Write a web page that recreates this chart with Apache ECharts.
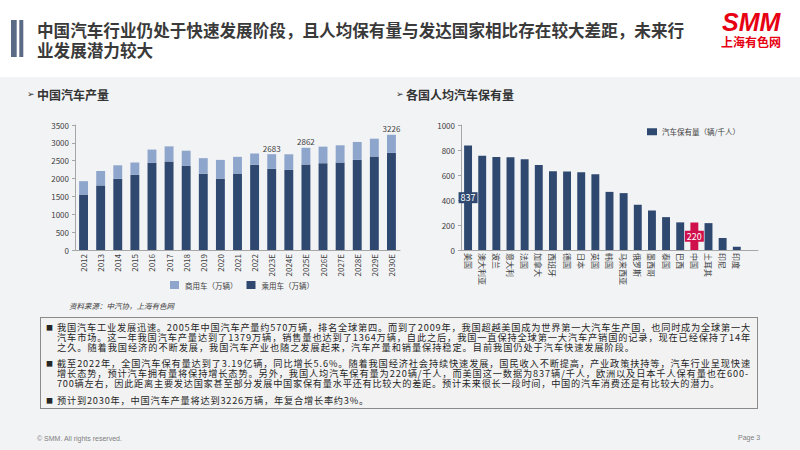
<!DOCTYPE html>
<html>
<head>
<meta charset="utf-8">
<script src="https://cdn.jsdelivr.net/npm/echarts@6/dist/echarts.min.js"></script>
<style>
  html, body { margin: 0; padding: 0; background: #f2f3f5; }
  #wrap { position: relative; width: 800px; height: 450px; }
  #main { width: 800px; height: 450px; }
  #notes { position: absolute; left: 40px; top: 317px; width: 716px; height: 90px;
    border: 1px solid #8a8a8a; background: #f2f2f2; box-sizing: content-box; }
  #notes .p { position: absolute; left: 16px; white-space: nowrap; line-height: 10px;
    font-family: "Noto Sans CJK SC", "Noto Sans", sans-serif; font-size: 9.2px; color: #262626; }
  #notes .b { position: absolute; left: 5px; line-height: 10px; font-size: 7px; color: #262626;
    font-family: "Noto Sans CJK SC", sans-serif; }
</style>
</head>
<body>
<div id="wrap">
  <div id="main"></div>
  <div id="notes"></div>
</div>
<script>
// 中国汽车产量（万辆）
const years = ['2012', '2013', '2014', '2015', '2016', '2017', '2018', '2019', '2020', '2021',
  '2022', '2023E', '2024E', '2025E', '2026E', '2027E', '2028E', '2029E', '2030E'];
const passenger = [1552, 1808, 1992, 2108, 2442, 2481, 2353, 2136, 1999, 2141,
  2384, 2271, 2243, 2392, 2430, 2447, 2522, 2615, 2718];
const commercial = [375, 404, 380, 342, 370, 421, 428, 436, 524, 467,
  318, 412, 437, 470, 464, 485, 503, 502, 508];
const labelledYears = ['2023E', '2025E', '2030E'];

// 各国人均汽车保有量（辆/千人）
const countries = ['美国', '澳大利亚', '波兰', '意大利', '法国', '加拿大', '西班牙', '德国', '日本', '英国',
  '韩国', '马来西亚', '俄罗斯', '墨西哥', '泰国', '巴西', '中国', '土耳其', '印尼', '印度'];
const ownership = [837, 755, 745, 742, 726, 681, 630, 628, 622, 606,
  465, 455, 362, 316, 263, 221, 220, 215, 96, 26];
const labelledCountries = ['美国', '中国'];

const FONT = '"Noto Sans CJK SC", "Noto Sans", sans-serif';
const DARK = '#2E4870';
const LIGHT = '#8FA6CC';
const RED = '#D0104C';
const AXIS = '#a6a6a6';
const TXT = '#404040';

const totals = passenger.map((v, i) => v + commercial[i]);

// text block: paragraphs of [line width, text], with the top of each paragraph inside the box
const paragraphs = [
  { top: 4, lines: [
    [694, '我国汽车工业发展迅速。2005年中国汽车产量约570万辆，排名全球第四。而到了2009年，我国超越美国成为世界第一大汽车生产国，也同时成为全球第一大'],
    [694, '汽车市场。这一年我国汽车产量达到了1379万辆，销售量也达到了1364万辆，自此之后，我国一直保持全球第一大汽车产销国的记录，现在已经保持了14年'],
    [578, '之久。随着我国经济的不断发展，我国汽车产业也随之发展起来，汽车产量和销量保持稳定。目前我国仍处于汽车快速发展阶段。']] },
  { top: 40.3, lines: [
    [694, '截至2022年，全国汽车保有量达到了3.19亿辆，同比增长5.6%。随着我国经济社会持续快速发展，国民收入不断提高，产业政策扶持等，汽车行业呈现快速'],
    [692, '增长态势，预计汽车拥有量将保持增长态势。另外，我国人均汽车保有量为220辆/千人，而美国这一数据为837辆/千人，欧洲以及日本千人保有量也在600-'],
    [663, '700辆左右，因此距离主要发达国家甚至部分发展中国家保有量水平还有比较大的差距。预计未来很长一段时间，中国的汽车消费还是有比较大的潜力。']] },
  { top: 77.3, lines: [
    [312, '预计到2030年，中国汽车产量将达到3226万辆，年复合增长率约3%。']] }
];
const box = document.getElementById('notes');
paragraphs.forEach(p => {
  const b = document.createElement('div');
  b.className = 'b'; b.textContent = '■'; b.style.top = p.top + 'px';
  box.appendChild(b);
  const d = document.createElement('div');
  d.className = 'p'; d.style.top = p.top + 'px';
  box.appendChild(d);
  p.lines.forEach((l, i) => {
    if (i > 0) d.appendChild(document.createElement('br'));
    const s = document.createElement('span');
    s.textContent = l[1];
    d.appendChild(s);
    const w = s.getBoundingClientRect().width;
    s.style.letterSpacing = ((l[0] - w) / l[1].length).toFixed(3) + 'px';
  });
});

const chart = echarts.init(document.getElementById('main'), null, { renderer: 'svg' });

const commercialData = commercial.map((v, i) => {
  if (labelledYears.indexOf(years[i]) < 0) return v;
  return { value: v, label: { show: true, position: 'top', distance: 2, formatter: String(totals[i]) } };
});

const ownershipData = ownership.map((v, i) => {
  const c = countries[i];
  const col = c === '中国' ? RED : DARK;
  const item = { value: v, itemStyle: { color: col } };
  if (labelledCountries.indexOf(c) >= 0) {
    item.label = {
      show: true, position: 'inside', color: '#fff', fontSize: 9,
      backgroundColor: col, padding: [1, 2]
    };
  }
  return item;
});

function txt(x, y, text, style) {
  return {
    type: 'text', x: x, y: y, silent: true,
    style: Object.assign({ text: text, fontFamily: FONT, fill: '#333', verticalAlign: 'middle' }, style)
  };
}

const graphic = [
  { type: 'rect', shape: { x: 0, y: 0, width: 800, height: 77 }, style: { fill: '#ffffff' }, silent: true },
  { type: 'rect', shape: { x: 11, y: 20, width: 5.7, height: 37 }, style: { fill: '#5B6B86' }, silent: true },
  { type: 'rect', shape: { x: 19.3, y: 20, width: 4, height: 37 }, style: { fill: '#5B6B86' }, silent: true },
  txt(37, 30, '中国汽车行业仍处于快速发展阶段，且人均保有量与发达国家相比存在较大差距，未来行', { fontSize: 16.6, fontWeight: 'bold', fill: '#3a3a3a' }),
  txt(37, 50, '业发展潜力较大', { fontSize: 16.6, fontWeight: 'bold', fill: '#3a3a3a' }),
  txt(722, 22, 'SMM', { fontSize: 25, fontWeight: 900, fontStyle: 'italic', fontFamily: '"Liberation Sans", sans-serif', fill: '#E60012' }),
  txt(721, 41, '上海有色网', { fontSize: 12, fontWeight: 'bold', fill: '#E60012' }),

  txt(27, 94, '➢', { fontSize: 9, fill: '#333', fontFamily: '"DejaVu Sans", sans-serif' }),
  txt(37, 94, '中国汽车产量', { fontSize: 12, fontWeight: 'bold', fill: '#333' }),
  txt(396, 94, '➢', { fontSize: 9, fill: '#333', fontFamily: '"DejaVu Sans", sans-serif' }),
  txt(406, 94, '各国人均汽车保有量', { fontSize: 12, fontWeight: 'bold', fill: '#333' }),

  txt(69, 305, '资料来源：中汽协，上海有色网', { fontSize: 7.5, fontStyle: 'italic', fill: TXT }),

  txt(37, 438, '© SMM. All rights reserved.', { fontSize: 7, fill: '#7f7f7f', fontFamily: '"Liberation Sans", sans-serif' }),
  txt(738, 437, 'Page 3', { fontSize: 7, fill: '#7f7f7f', fontFamily: '"Liberation Sans", sans-serif' })
];

const option = {
  backgroundColor: '#f2f3f5',
  animation: false,
  textStyle: { fontFamily: FONT },
  graphic: graphic,
  legend: [
    {
      data: ['商用车（万辆）', '乘用车（万辆）'],
      left: 165, top: 276, icon: 'rect', itemWidth: 9, itemHeight: 8, itemGap: 9,
      textStyle: { fontSize: 7.5, color: TXT, padding: [0, 0, 0, 1] }
    },
    {
      data: ['汽车保有量（辆/千人）'],
      left: 642, top: 123, icon: 'rect', itemWidth: 10, itemHeight: 7,
      textStyle: { fontSize: 7.5, color: TXT }
    }
  ],
  grid: [
    { left: 75, right: 400, top: 125, bottom: 200 },
    { left: 461, right: 42, top: 125, bottom: 200 }
  ],
  xAxis: [
    {
      gridIndex: 0, type: 'category', data: years,
      axisLine: { lineStyle: { color: AXIS } }, axisTick: { show: false },
      axisLabel: { rotate: 90, interval: 0, fontSize: 8, color: TXT, margin: 4 }
    },
    {
      gridIndex: 1, type: 'category', data: countries.concat(['']), // blank slot at the end, as in the original
      axisLine: { lineStyle: { color: AXIS } }, axisTick: { show: false },
      axisLabel: { rotate: -90, interval: 0, fontSize: 8, color: TXT, margin: 3 }
    }
  ],
  yAxis: [
    {
      gridIndex: 0, type: 'value', min: 0, max: 3500, interval: 500,
      splitLine: { show: false },
      axisLine: { show: true, lineStyle: { color: AXIS } },
      axisTick: { show: true, length: 3, lineStyle: { color: AXIS } },
      axisLabel: { fontSize: 8, color: TXT, margin: 6, formatter: v => String(v) }
    },
    {
      gridIndex: 1, type: 'value', min: 0, max: 1000, interval: 200,
      splitLine: { show: false },
      axisLine: { show: true, lineStyle: { color: AXIS } },
      axisTick: { show: true, length: 3, lineStyle: { color: AXIS } },
      axisLabel: { fontSize: 8, color: TXT, margin: 6, formatter: v => String(v) }
    }
  ],
  series: [
    {
      name: '乘用车（万辆）', type: 'bar', stack: 'prod', xAxisIndex: 0, yAxisIndex: 0,
      barWidth: '52%', itemStyle: { color: DARK }, data: passenger
    },
    {
      name: '商用车（万辆）', type: 'bar', stack: 'prod', xAxisIndex: 0, yAxisIndex: 0,
      barWidth: '52%', itemStyle: { color: LIGHT }, clip: false,
      label: { fontSize: 8, color: TXT },
      data: commercialData,
      markLine: {
        silent: true, symbol: ['none', 'arrow'], symbolSize: 7, precision: 0,
        lineStyle: { color: '#111', width: 1.5, type: 'solid' },
        label: {
          show: true, position: 'middle', formatter: '+3%', fontSize: 8, color: '#111',
          backgroundColor: '#fff', borderColor: '#333', borderWidth: 0.8, borderRadius: 8,
          padding: [1, 4], distance: 0, verticalAlign: 'middle'
        },
        data: [[{ coord: ['2023E', 3200] }, { coord: ['2030E', 3750] }]]
      }
    },
    {
      name: '汽车保有量（辆/千人）', type: 'bar', xAxisIndex: 1, yAxisIndex: 1,
      barWidth: '56%', itemStyle: { color: DARK }, data: ownershipData
    }
  ]
};

chart.setOption(option);
</script>
</body>
</html>
